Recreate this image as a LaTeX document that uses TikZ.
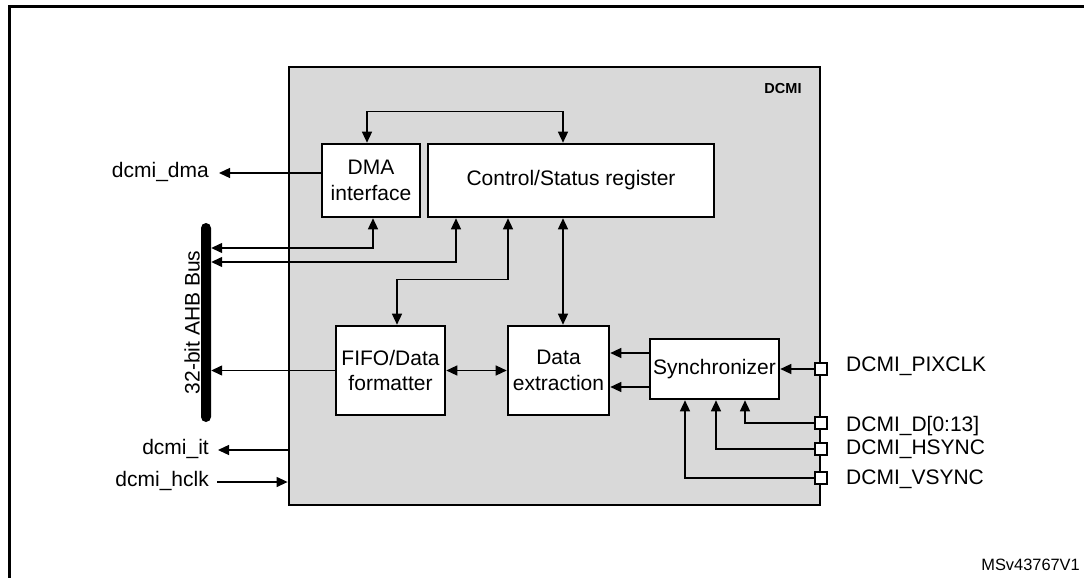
\documentclass[tikz,border=0pt]{standalone}
\usepackage{fontspec}
\setmainfont{Liberation Sans}
\usetikzlibrary{arrows.meta}
\definecolor{blockgray}{RGB}{217,217,217}

\begin{document}
\begin{tikzpicture}[
    x=1pt, y=-1pt,
    block/.style={draw, fill=white, line width=2.6pt, inner sep=0pt, align=center},
    connector/.style={-{Triangle[length=11pt,width=10pt]}, line width=1.3pt},
    biconnector/.style={{Triangle[length=11pt,width=10pt]}-{Triangle[length=11pt,width=10pt]}, line width=1.3pt},
    pin/.style={draw, fill=white, line width=1.2pt, minimum size=12pt, inner sep=0pt},
    % signal names: box height fixed so the node centre sits on the wire
    sig/.style={inner sep=0pt, text height=8pt, text depth=0pt},
    pinlabel/.style={inner sep=0pt, anchor=west, text height=15pt, text depth=0pt}
]
\tikzstyle{every node}=[font=\fontsize{21pt}{25.5pt}\selectfont]

\useasboundingbox (0,0) rectangle (1084,578);

% --- FRAME ---
\draw[line width=2.7pt] (9.7,580) -- (9.7,6.5) -- (1086,6.5);

% --- DCMI BLOCK ---
\node[draw, fill=blockgray, line width=2.8pt, minimum width=531pt, minimum height=438pt, inner sep=0pt] (dcmi) at (554.5,286) {};
\node[font=\bfseries\fontsize{14.5pt}{17pt}\selectfont, inner sep=0pt] (dcmi-name) at (783,89) {DCMI};

% --- SUB-BLOCKS ---
\node[block, minimum width=98pt, minimum height=73pt] (dma) at (371,180.5) {DMA\\interface};
\node[block, minimum width=286pt, minimum height=73pt] (csr) at (571,180.5) {Control/Status register};
\node[block, minimum width=109pt, minimum height=89pt] (fifo) at (390.5,370.5) {FIFO/Data\\formatter};
\node[block, minimum width=101pt, minimum height=89pt] (dext) at (558.5,370.5) {Data\\extraction};
\node[block, minimum width=129pt, minimum height=60pt] (sync) at (714.5,369) {Synchronizer};

% --- AHB BUS ---
\node[fill=black, rounded corners=5pt, minimum width=10pt, minimum height=199pt, inner sep=0pt] (bus) at (206,322.5) {};
\node[rotate=90, anchor=south, inner sep=0pt, text height=15pt, text depth=0pt] (bus-name) at ([xshift=-1pt]bus.west) {32-bit AHB Bus};

% --- LEFT SIGNALS ---
\node[sig, anchor=east] (dma-sig) at (209,173) {dcmi\_dma};
\node[sig, anchor=east] (it-sig) at (209,450) {dcmi\_it};
\node[sig, anchor=east] (hclk-sig) at (209,482) {dcmi\_hclk};

\draw[connector] (dma.west |- dma-sig) -- ([xshift=10pt]dma-sig.east);
\draw[connector] (dcmi.west |- it-sig) -- ([xshift=9pt]it-sig.east);
\draw[connector] ([xshift=8pt]hclk-sig.east) -- (dcmi.west |- hclk-sig);

% --- INTERNAL CONNECTIONS ---
\draw[biconnector] ([xshift=-4pt]dma.north) -- ++(0,-31) -| ([xshift=-8pt]csr.north);
\draw[biconnector] (bus.east |- 0,248) -| ([xshift=2pt]dma.south);
\draw[biconnector] (bus.east |- 0,262) -| ([xshift=-115pt]csr.south);
\draw[biconnector] ([xshift=-63pt]csr.south) -- ++(0,61) -| ([xshift=6.5pt]fifo.north);
\draw[biconnector] ([xshift=-8pt]csr.south) -- ([xshift=4.5pt]dext.north);
\draw[connector] (fifo.west) -- (bus.east |- fifo.west);
\draw[biconnector] (fifo.east) -- (dext.west);
\draw[connector] (sync.west |- 0,353) -- (dext.east |- 0,353);
\draw[connector] (sync.west |- 0,387) -- (dext.east |- 0,387);

% --- PINS ---
\draw[connector] (dcmi.east |- 0,369) -- (sync.east);
\draw[connector] (dcmi.east |- 0,423) -| ([xshift=30.5pt]sync.south);
\draw[connector] (dcmi.east |- 0,449) -| ([xshift=1.5pt]sync.south);
\draw[connector] (dcmi.east |- 0,478) -| ([xshift=-29.5pt]sync.south);

\foreach \pinname/\py/\ly/\txt in {pclk/369/364/DCMI\_PIXCLK, pd/423/423.5/DCMI\_D[0:13], phs/449/447/DCMI\_HSYNC, pvs/478/476.5/DCMI\_VSYNC}
{
    \node[pin] (\pinname) at (821,\py) {};
    \node[pinlabel] (\pinname-name) at (846,\ly) {\txt};
}

% --- REFERENCE ---
\node[font=\fontsize{16.4pt}{19pt}\selectfont, anchor=east, inner sep=0pt] (ref) at (1080,565) {MSv43767V1};

\end{tikzpicture}
\end{document}
